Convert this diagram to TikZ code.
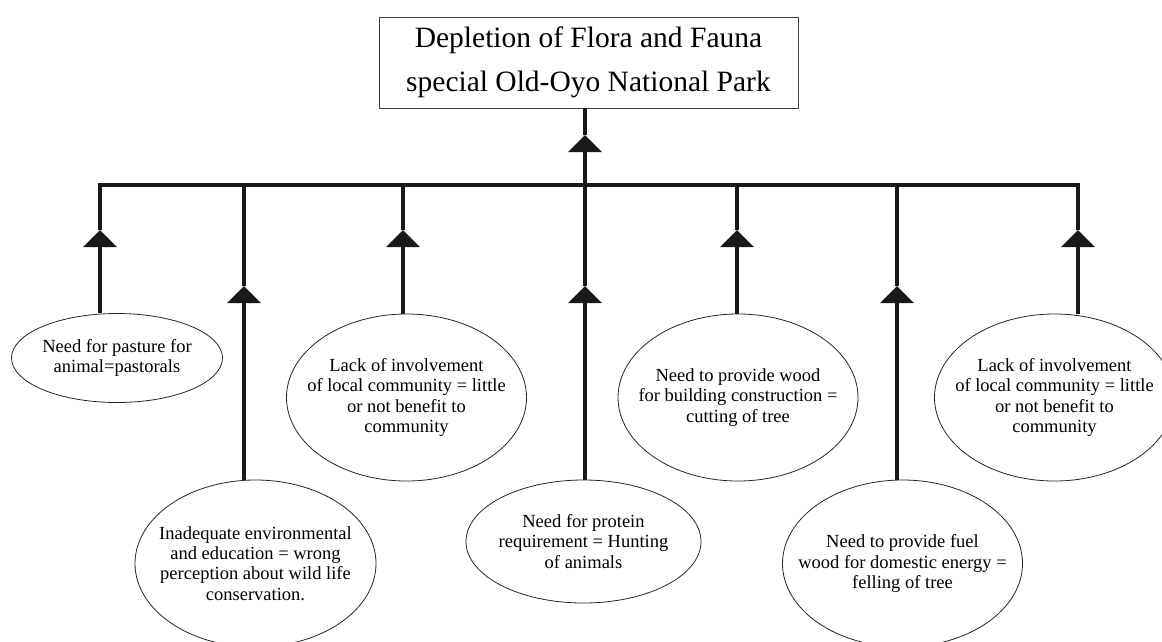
\documentclass[tikz,border=0pt]{standalone}
\usepackage{fontspec}
\setmainfont{Liberation Serif}
\usetikzlibrary{shapes.geometric,arrows.meta}

\begin{document}
\begin{tikzpicture}
  [x=1pt,y=-1pt,
   cause/.style={ellipse,draw=black!85,line width=.8pt,align=center,
     inner xsep=-30pt,inner ysep=0pt,minimum width=240pt,minimum height=167pt,
     font=\fontsize{18.5}{20.3}\selectfont},
   goal/.style={draw=black!75,line width=.9pt,align=center,inner sep=0pt,
     minimum width=419pt,minimum height=91pt,font=\fontsize{29.5}{44}\selectfont},
   wire/.style={line width=3.2pt,black!90},
   up/.style={wire,-{Triangle[width=33pt,length=17pt]}}]

  \useasboundingbox (0,0) rectangle (1162,641);

  \node[goal] (park) at (588.5,62.5) {Depletion of Flora and Fauna\\special Old-Oyo National Park};

  \node[cause,minimum width=211pt,minimum height=89pt] (pasture) at (117,358) {Need for pasture for\\animal=pastorals};
  \node[cause,minimum width=241pt] (educ) at (255.5,563.5) {Inadequate environmental\\and education = wrong\\perception about wild life\\conservation.};
  \node[cause] (local1) at (406.5,397.5) {Lack of involvement\\of local community = little\\or not benefit to\\community};
  \node[cause,minimum width=235pt,minimum height=123pt] (protein) at (583.5,541.5) {Need for protein\\requirement = Hunting\\of animals};
  \node[cause] (build) at (738,397.5) {Need to provide wood\\for building construction =\\cutting of tree};
  \node[cause] (fuel) at (902.5,563.5) {Need to provide fuel\\wood for domestic energy =\\felling of tree};
  \node[cause] (local2) at (1054.5,397.5) {Lack of involvement\\of local community = little\\or not benefit to\\community};

  % junctions on the bar and arrow tips
  \foreach \n/\x/\y in {1/100/230,2/244/286,3/403/230,4/585/286,5/737/230,6/897/286,7/1078/230}
  {
    \coordinate (j\n) at (\x,185);
    \coordinate (a\n) at (\x,\y);
  }
  \coordinate (a0) at (585,135);

  \foreach \n/\e in {1/pasture,2/educ,3/local1,4/protein,5/build,6/fuel,7/local2}
    \draw[up] (j\n |- \e.north) -- (a\n);

  \draw[wire] (a1) -- (j1) -- (j7) -- (a7);
  \foreach \n in {2,...,6}
    \draw[wire] (a\n) -- (j\n);

  \draw[up] (j4) -- (a0);
  \draw[wire] (a0) -- (a0 |- park.south);

\end{tikzpicture}
\end{document}
